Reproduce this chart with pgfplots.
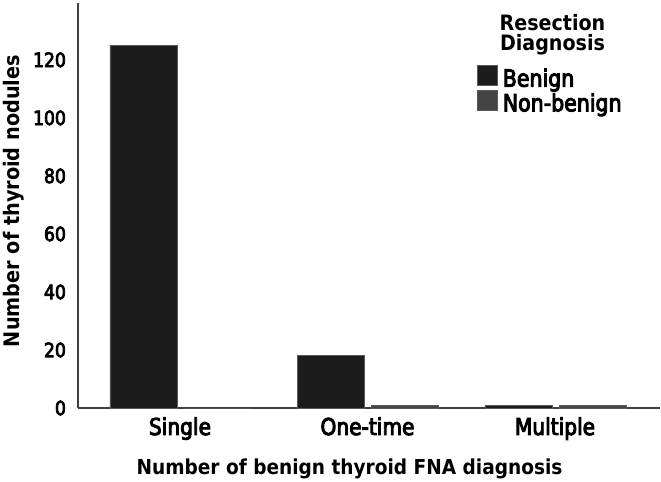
\documentclass[border=0pt]{standalone}
\usepackage{fontspec}
\setmainfont{DejaVu Sans}
\newfontfamily\tickfont{DejaVu Sans}[FakeStretch=0.87, FakeBold=4]
\newfontfamily\lblfont{DejaVu Sans}[FakeStretch=0.9]
\usepackage{pgfplots}
\pgfplotsset{compat=1.18}
\definecolor{benign}{HTML}{1C1C1C}
\definecolor{nonbenign}{HTML}{444444}
\definecolor{edge}{HTML}{5A5A5A}
\begin{document}
\begin{tikzpicture}
\useasboundingbox (0pt,0pt) rectangle (330.5pt,241pt);
\begin{axis}[
  at={(39pt,37pt)}, anchor=south west,
  scale only axis, width=291pt, height=202.5pt,
  xmin=-0.544, xmax=2.56, ymin=0, ymax=139.6,
  xtick={0,1,2}, xticklabels={Single,One-time,Multiple},
  ytick={0,20,...,120},
  /pgf/number format/assume math mode=true,
  axis x line*=bottom, axis y line*=left,
  axis line style={-, draw=black!75, line width=0.6pt},
  major tick length=0pt,
  xticklabel style={font=\tickfont\fontsize{11.6}{13}\selectfont, anchor=base, yshift=-13.5pt},
  yticklabel style={font=\tickfont\fontsize{9.9}{11}\selectfont, anchor=east, xshift=-2.5pt},
  xlabel={Number of benign thyroid FNA diagnosis},
  ylabel={Number of thyroid nodules},
  xlabel style={at={(axis description cs:0.4665,-0.1654)}, anchor=base, font=\lblfont\bfseries\fontsize{10.3}{12}\selectfont},
  ylabel style={at={(axis description cs:-0.0997,0.511)}, anchor=base, font=\lblfont\bfseries\fontsize{10.7}{12}\selectfont},
  ybar, bar width=0.357,
  clip=false,
  legend style={at={(axis description cs:0.6856,0.847)}, anchor=north west, draw=none, fill=none, inner sep=0pt, outer sep=0pt, row sep=0pt, column sep=2.5pt, font=\tickfont\fontsize{11.8}{13}\selectfont, nodes={inner sep=0pt}},
  legend cell align=left,
  legend image code/.code={\fill[#1] (0pt,-3.1pt) rectangle (10pt,6.9pt);},
]
\addplot[fill=benign, draw=edge, line width=0.4pt, bar shift=-0.195] coordinates {(0,125) (1,18) (2,1)};
\addlegendentry{Benign}
\addplot[fill=nonbenign, draw=edge, line width=0.4pt, bar shift=0.2] coordinates {(0,0) (1,1) (2,1)};
\addlegendentry{Non-benign}
\node[font=\lblfont\bfseries\fontsize{10.6}{9.6}\selectfont, align=center, anchor=north, inner sep=0pt] at (axis description cs:0.8153,0.972) {Resection\\Diagnosis};
\end{axis}
\end{tikzpicture}
\end{document}
